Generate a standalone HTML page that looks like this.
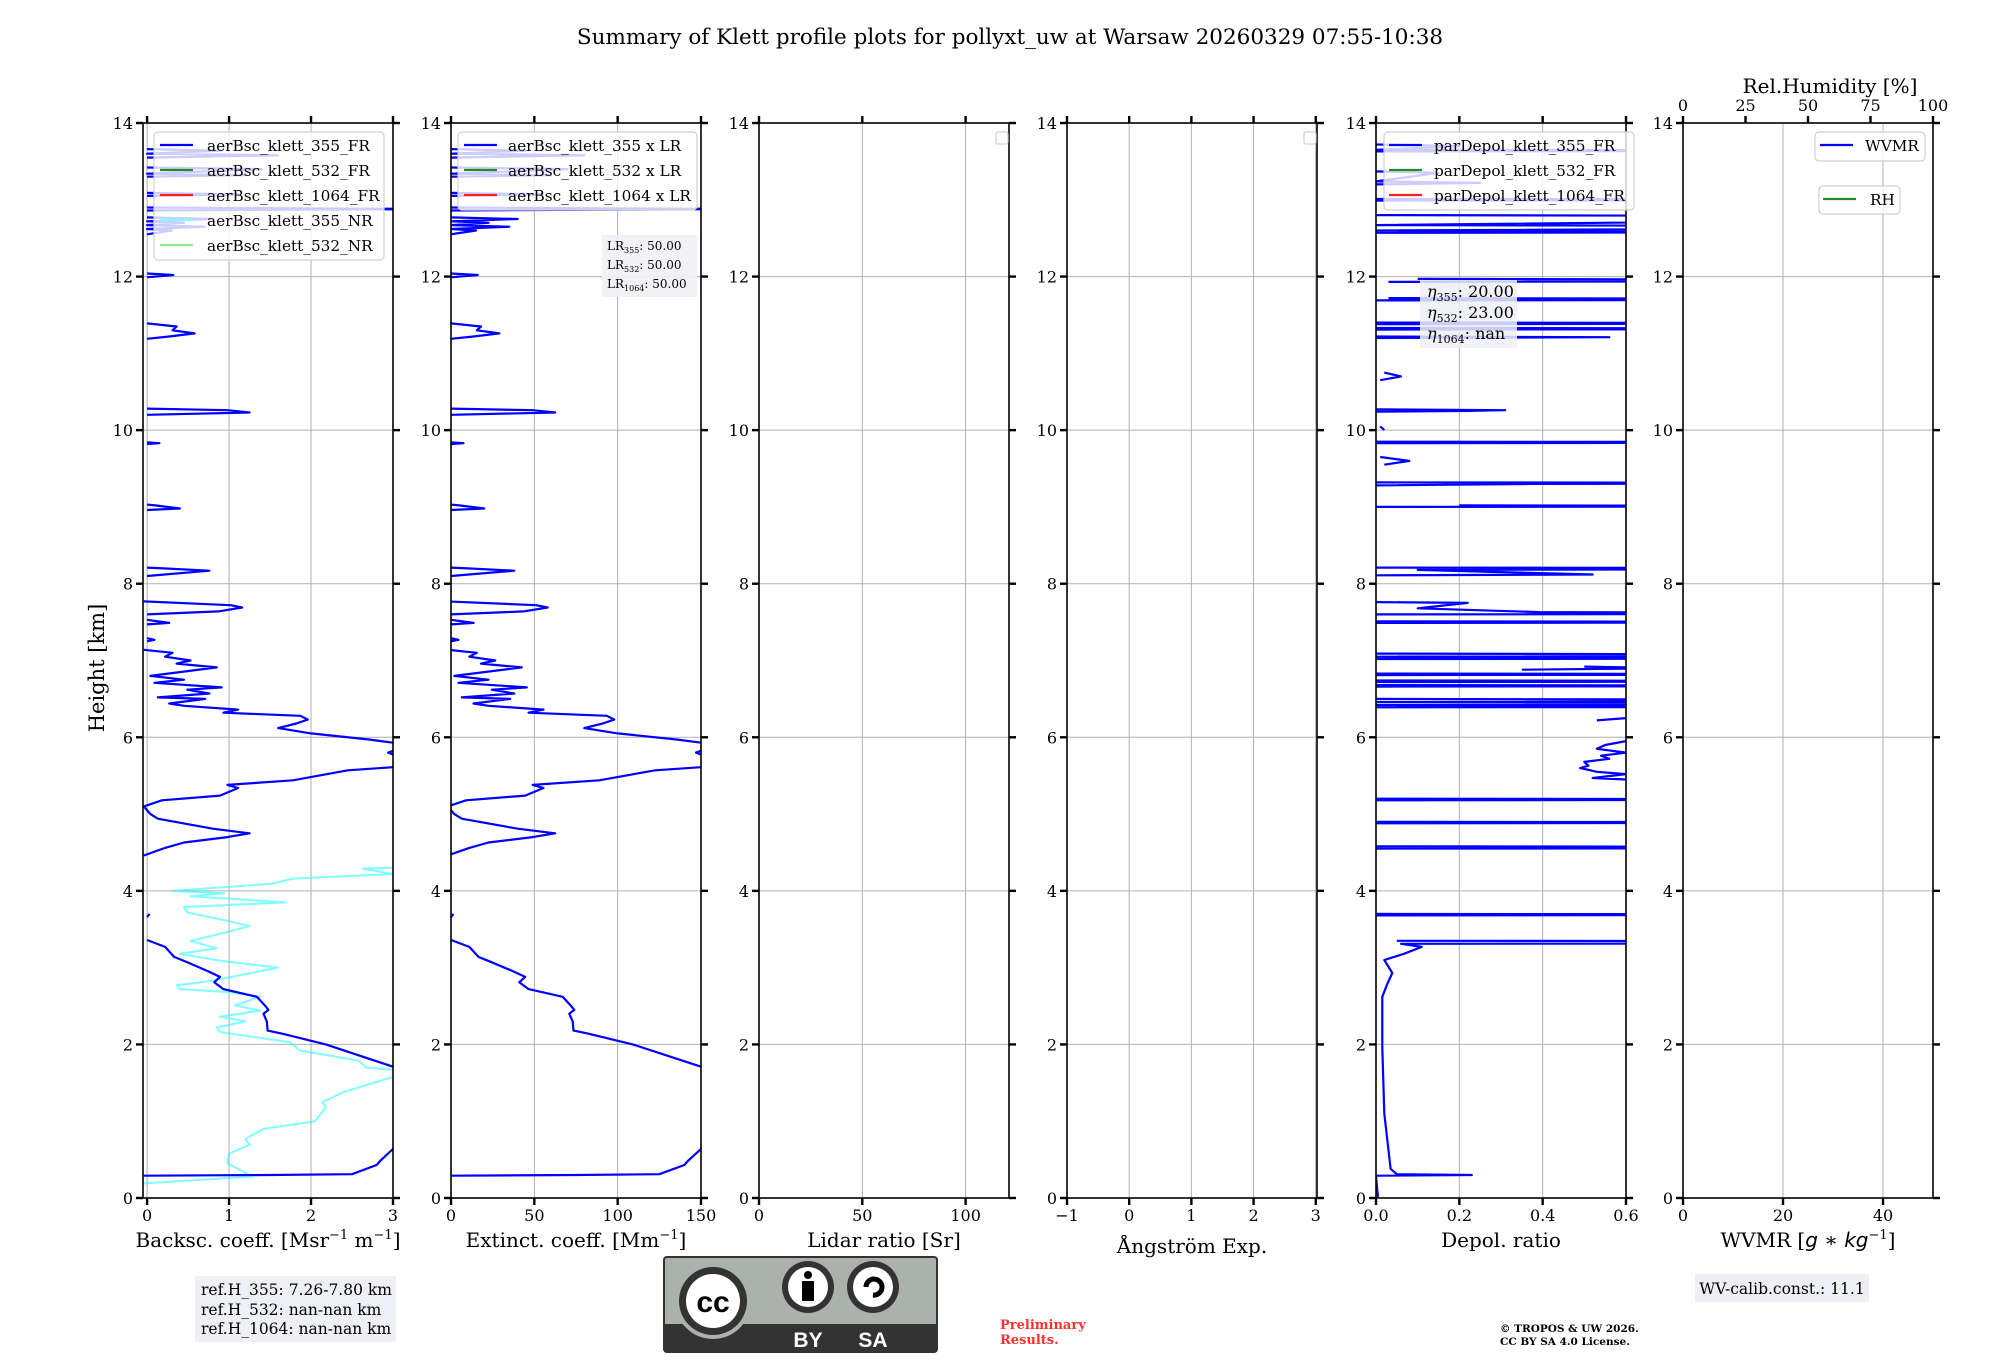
<!DOCTYPE html>
<html><head><meta charset="utf-8">
<style>
html,body{margin:0;padding:0;background:#fff;}
svg{display:block;}
text{font-family:"DejaVu Serif","Liberation Serif",serif;fill:#000;}
</style></head>
<body>
<svg id="fig" width="2000" height="1360" viewBox="0 0 2000 1360" xmlns="http://www.w3.org/2000/svg">
<text x="1010" y="44" font-size="21.5" text-anchor="middle">Summary of Klett profile plots for pollyxt_uw at Warsaw 20260329 07:55-10:38</text>
<text x="0" y="0" font-size="21" text-anchor="middle" transform="translate(104,668) rotate(-90)">Height [km]</text>
<g id="panels"></g>

<g>
<rect x="195" y="1276" width="201" height="66" fill="#eff0f5"/>
<text x="201" y="1295" font-size="15.5">ref.H_355: 7.26-7.80 km</text>
<text x="201" y="1315" font-size="15.5">ref.H_532: nan-nan km</text>
<text x="201" y="1334" font-size="15.5">ref.H_1064: nan-nan km</text>
</g>

<g>
<rect x="664" y="1257" width="273" height="95" rx="3" fill="#abb1ab" stroke="#333" stroke-width="2"/>
<rect x="665" y="1324" width="271" height="27" fill="#333"/>
<circle cx="713" cy="1301" r="38" fill="#abb1ab"/>
<circle cx="713" cy="1301" r="34" fill="#333"/>
<circle cx="713" cy="1301" r="27" fill="#fff"/>
<text x="713" y="1312" font-size="30" font-weight="bold" text-anchor="middle" style="font-family:'Liberation Sans',sans-serif;fill:#000">cc</text>
<circle cx="808" cy="1287" r="26" fill="#333"/>
<circle cx="808" cy="1287" r="20" fill="#fff"/>
<circle cx="808" cy="1275" r="4" fill="#000"/>
<rect x="802" y="1281" width="12" height="20" fill="#000"/>
<circle cx="873" cy="1287" r="26" fill="#333"/>
<circle cx="873" cy="1287" r="20" fill="#fff"/>
<path d="M866 1287 A8 8 0 1 1 873 1295" fill="none" stroke="#000" stroke-width="5"/>
<text x="808" y="1347" font-size="21" font-weight="bold" text-anchor="middle" style="font-family:'Liberation Sans',sans-serif;fill:#fff">BY</text>
<text x="873" y="1347" font-size="21" font-weight="bold" text-anchor="middle" style="font-family:'Liberation Sans',sans-serif;fill:#fff">SA</text>
</g>

<g>
<text x="1000" y="1329" font-size="13" font-weight="bold" style="fill:#ff3030">Preliminary</text>
<text x="1000" y="1344" font-size="13" font-weight="bold" style="fill:#ff3030">Results.</text>
</g>
<g>
<text x="1500" y="1332" font-size="10.5" font-weight="bold">© TROPOS &amp; UW 2026.</text>
<text x="1500" y="1345" font-size="10.5" font-weight="bold">CC BY SA 4.0 License.</text>
</g>
<g>
<rect x="1695" y="1274" width="174" height="28" fill="#eff0f5"/>
<text x="1782" y="1294" font-size="15.5" text-anchor="middle">WV-calib.const.: 11.1</text>
</g>
</svg>

<script>
// ---------- data ----------
const heightTicks = [0, 2, 4, 6, 8, 10, 12, 14];
const lidarRatio355 = 50;
const angstromTicks = [-1, 0, 1, 2, 3];
// aerBsc_klett_355_FR : [height km, backscatter Msr-1 m-1], null = gap
const bsc355FR = [[0.29,-0.04],[0.3,1.5],[0.31,2.5],[0.43,2.8],[0.49,2.85],[0.64,3.0],[0.8,3.3],[1.3,3.5],[1.71,3.0],[2.0,2.18],[2.14,1.65],[2.18,1.47],[2.3,1.46],[2.4,1.42],[2.45,1.48],[2.49,1.45],[2.62,1.34],[2.72,0.93],[2.81,0.82],[2.88,0.89],[2.96,0.73],[3.07,0.49],[3.14,0.33],[3.27,0.22],[3.36,0],null,[3.66,0],[3.7,0.03],null,[4.46,-0.04],[4.56,0.22],[4.63,0.45],[4.7,0.98],[4.75,1.25],[4.81,0.8],[4.94,0.13],[5.0,0.04],[5.1,-0.04],[5.18,0.18],[5.24,0.89],[5.34,1.11],[5.38,0.98],[5.44,1.78],[5.57,2.45],[5.61,3.0],[5.65,3.3],[5.8,2.94],[5.9,3.2],[5.93,3.0],[5.97,2.72],[6.05,2.0],[6.12,1.6],[6.18,1.82],[6.23,1.96],[6.28,1.87],[6.32,0.93],[6.36,1.11],[6.41,0.45],[6.44,0.27],[6.5,0.71],[6.52,0.13],[6.57,0.76],[6.62,0.49],[6.65,0.91],[6.71,0.09],[6.75,0.45],[6.8,0.04],[6.91,0.85],[6.96,0.36],[7.0,0.53],[7.05,0.22],[7.1,0.31],[7.14,-0.04],null,[7.25,0],[7.27,0.09],[7.29,0],null,[7.47,0],[7.49,0.27],[7.53,0],null,[7.6,0],[7.64,0.87],[7.69,1.16],[7.72,1.02],[7.77,-0.04],null,[8.1,0],[8.17,0.76],[8.2,0.2],[8.21,0],null,[8.96,0],[8.98,0.4],[9.02,0.1],[9.03,0],null,[9.82,0],[9.83,0.15],[9.84,0],null,[10.2,0],[10.23,1.25],[10.26,0.98],[10.28,0],null,[11.19,0],[11.22,0.27],[11.26,0.58],[11.3,0.31],[11.35,0.36],[11.39,0],null,[11.99,0],[12.02,0.32],[12.04,0],null,[12.55,0],[12.6,0.3],[12.62,0],[12.65,0.7],[12.67,0],[12.7,0.45],[12.72,0],[12.75,0.8],[12.77,0],null,[12.86,0],[12.88,3.5],[12.9,0],null,[13.05,0],[13.07,1.1],[13.09,0],null,[13.3,0],[13.32,1.2],[13.34,0],[13.4,1.4],[13.42,0],null,[13.55,0],[13.58,1.6],[13.6,0],[13.64,0.9],[13.66,0]];
// aerBsc_klett_355_NR
const bsc355NR = [[0.19,-0.04],[0.28,1.29],[0.45,0.98],[0.58,1.0],[0.69,1.25],[0.77,1.2],[0.9,1.42],[1.0,2.05],[1.18,2.18],[1.25,2.14],[1.38,2.4],[1.57,2.98],[1.65,3.2],[1.7,2.67],[1.79,2.58],[1.92,1.87],[2.03,1.74],[2.16,0.89],[2.22,0.85],[2.3,1.2],[2.36,0.89],[2.44,1.38],[2.51,1.07],[2.62,1.38],[2.68,1.02],[2.72,0.4],[2.77,0.36],[2.83,0.8],[3.0,1.6],[3.09,0.89],[3.18,0.4],[3.25,0.85],[3.35,0.53],[3.44,0.89],[3.54,1.25],[3.61,0.98],[3.72,0.49],[3.79,0.45],[3.85,1.69],[3.93,0.53],[3.97,0.94],[4.0,0.31],[4.09,1.51],[4.16,1.78],[4.22,3.0],[4.29,2.63],[4.3,3.0]];
// parDepol_klett_355_FR
const depol355FR = [[0,0.005],[0.1,0.003],[0.28,0],null,[0.29,0],[0.3,0.23],[0.31,0.05],[0.38,0.035],[1.1,0.02],[1.96,0.015],[2.62,0.015],[2.79,0.027],[2.93,0.039],[3.1,0.02],[3.18,0.067],[3.27,0.11],[3.31,0.06],[3.32,2],[3.34,2],[3.35,0.05],null,[3.68,0],[3.69,2],[3.7,0],null,[4.55,0],[4.56,2],[4.57,2],[4.58,0],null,[4.88,0],[4.89,2],[4.9,0],null,[5.18,0],[5.19,2],[5.2,0],null,[5.45,0.6],[5.47,0.52],[5.52,0.6],[5.55,0.53],[5.6,0.49],[5.63,0.51],[5.68,0.5],[5.72,0.56],[5.76,0.54],[5.8,0.6],[5.85,0.53],[5.9,0.55],[5.95,0.6],[6.0,0.65],null,[6.22,0.53],[6.25,0.6],[6.27,0.65],null,[6.39,0],[6.4,2],[6.42,0],[6.44,2],[6.46,0],[6.48,2],[6.5,0],null,[6.66,0],[6.67,2],[6.68,0],null,[6.72,0],[6.73,2],[6.74,0],null,[6.81,0],[6.82,2],[6.83,0],null,[6.88,0.35],[6.9,0.7],[6.92,0.5],null,[7.02,0],[7.03,2],[7.05,0],[7.07,2],[7.09,0],null,[7.49,0],[7.5,2],[7.51,0],null,[7.6,0],[7.61,2],[7.63,0.39],[7.68,0.1],[7.75,0.22],[7.76,0],null,[8.11,0],[8.12,0.52],[8.18,0.1],[8.2,2],[8.21,0],null,[9.0,0],[9.01,2],[9.02,0.2],null,[9.28,0],[9.3,0.38],[9.31,2],[9.32,0],null,[9.55,0.02],[9.6,0.08],[9.65,0.01],null,[9.83,0],[9.84,2],[9.85,0],null,[10.0,0.02],[10.05,0.01],null,[10.24,0],[10.25,0.22],[10.26,0.31],[10.27,0],null,[10.65,0.01],[10.7,0.06],[10.75,0.02],null,[11.2,0],[11.21,0.56],[11.22,0],null,[11.31,0],[11.32,2],[11.33,0],null,[11.38,0],[11.39,2],[11.4,0],null,[11.69,0],[11.7,2],[11.72,0.03],null,[11.93,0.03],[11.95,2],[11.97,0.1],null,[12.57,0],[12.58,2],[12.6,0],[12.65,2],[12.67,0],[12.78,2],[12.8,0],null,[12.99,0],[13.0,2],[13.01,0],null,[13.2,0],[13.22,0.25],[13.24,0],[13.35,0.15],[13.37,0],null,[13.63,0],[13.64,2],[13.65,0],[13.7,0.2],[13.72,0]];
const rhTicks = [0, 25, 50, 75, 100];

// ---------- layout ----------
const NS = "http://www.w3.org/2000/svg";
const TOP = 123, BOT = 1198, HMAX = 14;
const yScale = h => BOT - (h / HMAX) * (BOT - TOP);
const panelsG = document.getElementById('panels');
function el(tag, attrs, parent){ const e=document.createElementNS(NS,tag); for(const k in attrs) e.setAttribute(k,attrs[k]); (parent||panelsG).appendChild(e); return e; }

const panels = [
 {name:'backscatter', x0:143, xmin:-0.05, xmax:3, ticks:[0,1,2,3], fmt:v=>String(v), label:'bsc'},
 {name:'extinction', x0:451, xmin:0, xmax:150, ticks:[0,50,100,150], fmt:v=>String(v), label:'ext'},
 {name:'lidar-ratio', x0:759, xmin:0, xmax:121, ticks:[0,50,100], fmt:v=>String(v), label:'Lidar ratio [Sr]'},
 {name:'angstrom', x0:1067, xmin:-1, xmax:3.02, ticks:angstromTicks, fmt:v=>v<0?'\u2212'+(-v):String(v), label:'\u00C5ngstr\u00F6m Exp.'},
 {name:'depol', x0:1376, xmin:0, xmax:0.6, ticks:[0,0.2,0.4,0.6], fmt:v=>v.toFixed(1), label:'Depol. ratio'},
 {name:'wvmr', x0:1683, xmin:0, xmax:50, ticks:[0,20,40], fmt:v=>String(v), label:'wvmr'}
];
const W = 250;

panels.forEach((p,i)=>{
  const g = el('g',{});
  
  
  const xs = v => p.x0 + (v - p.xmin)/(p.xmax - p.xmin)*W;
  p.xs = xs; p.g = g;
  const clip = el('clipPath',{id:'clip'+i}, g);
  el('rect',{x:p.x0,y:TOP,width:W,height:BOT-TOP}, clip);
  p.ticks.forEach(t=>{ const l=el('line',{x1:xs(t),x2:xs(t),y1:TOP,y2:BOT,stroke:'#b0b0b0','stroke-width':1},g);
      });
  heightTicks.forEach(h=>{ const l=el('line',{x1:p.x0,x2:p.x0+W,y1:yScale(h),y2:yScale(h),stroke:'#b0b0b0','stroke-width':1},g);
      });
  p.plot = el('g',{'clip-path':'url(#clip'+i+')'}, g);
  const fr = el('rect',{x:p.x0,y:TOP,width:W,height:BOT-TOP,fill:'none',stroke:'#000','stroke-width':1.6},g);
   
  p.ticks.forEach(t=>{
    el('line',{x1:xs(t),x2:xs(t),y1:BOT,y2:BOT+7,stroke:'#000','stroke-width':2.4},g);
    if(i!==5) el('line',{x1:xs(t),x2:xs(t),y1:TOP,y2:TOP-7,stroke:'#000','stroke-width':2.4},g);
    const tx = el('text',{x:xs(t),y:1221,'font-size':16,'text-anchor':'middle'},g);
    tx.textContent = p.fmt(t);
     
  });
  heightTicks.forEach(h=>{
    el('line',{x1:p.x0-7,x2:p.x0,y1:yScale(h),y2:yScale(h),stroke:'#000','stroke-width':2.4},g);
    el('line',{x1:p.x0+W,x2:p.x0+W+7,y1:yScale(h),y2:yScale(h),stroke:'#000','stroke-width':2.4},g);
    const ty = el('text',{x:p.x0-10,y:yScale(h)+6,'font-size':16,'text-anchor':'end'},g);
    ty.textContent = String(h);
     
  });
  const lab = el('text',{x:p.x0+W/2,y:1247,'font-size':20,'text-anchor':'middle'},g);
   
  if(p.label==='bsc'){ lab.innerHTML='Backsc. coeff. [Msr<tspan font-size="13" dy="-8">\u22121</tspan><tspan dy="8"> m</tspan><tspan font-size="13" dy="-8">\u22121</tspan><tspan dy="8">]</tspan>'; }
  else if(p.label==='ext'){ lab.innerHTML='Extinct. coeff. [Mm<tspan font-size="13" dy="-8">\u22121</tspan><tspan dy="8">]</tspan>'; }
  else if(p.label==='wvmr'){ lab.innerHTML='WVMR [<tspan font-style="italic" style="font-family:\'DejaVu Sans\',sans-serif">g</tspan> \u2217 <tspan font-style="italic" style="font-family:\'DejaVu Sans\',sans-serif">kg</tspan><tspan font-size="13" dy="-8">\u22121</tspan><tspan dy="8">]</tspan>'; }
  else { lab.textContent = p.label; if(i===3) lab.setAttribute('y',1253); }
});

function drawProfile(p, data, scaleV, color, width, opacity, name){
  let d=''; let pen=false;
  data.forEach(pt=>{
    if(pt===null){ pen=false; return; }
    const x=p.xs(pt[1]*scaleV), y=yScale(pt[0]);
    d += (pen?'L':'M')+x.toFixed(1)+' '+y.toFixed(1)+' '; pen=true;
  });
  const path = el('path',{d:d,fill:'none',stroke:color,'stroke-width':width,'stroke-opacity':opacity,'stroke-linejoin':'round'},p.plot);
  
  
}
drawProfile(panels[0], bsc355NR, 1, '#00ffff', 2, 0.5, 'line-bsc-355-nr');
drawProfile(panels[0], bsc355FR, 1, '#0000ff', 2.2, 1, 'line-bsc-355-fr');
drawProfile(panels[1], bsc355FR, lidarRatio355, '#0000ff', 2.2, 1, 'line-ext-355');
drawProfile(panels[4], depol355FR, 1, '#0000ff', 2.2, 1, 'line-depol-355-fr');

(function(){
  const p=panels[5];
  const rx = v => p.x0 + v/100*W;
  rhTicks.forEach(t=>{
    el('line',{x1:rx(t),x2:rx(t),y1:TOP,y2:TOP-7,stroke:'#000','stroke-width':2.4},p.g);
    const tx=el('text',{x:rx(t),y:111,'font-size':16,'text-anchor':'middle'},p.g);
    tx.textContent=String(t);
     
  });
  const t=el('text',{x:1830,y:93,'font-size':20,'text-anchor':'middle'},p.g);
  t.textContent='Rel.Humidity [%]';
   
})();

function legend(name, x, y, w, h, entries, lx, tx, fs){
  const g = el('g',{});
  
  
  el('rect',{x:x,y:y,width:w,height:h,rx:4,fill:'#fff','fill-opacity':0.8,stroke:'#d0d0d0','stroke-width':1.2},g);
  entries.forEach((e,k)=>{
    const yy = y+13+k*25;
    el('line',{x1:lx,x2:lx+33,y1:yy,y2:yy,stroke:e[1],'stroke-width':2.2},g);
    const t=el('text',{x:tx,y:yy+6,'font-size':fs},g);
    t.textContent=e[0];
     
  });
}
legend('backscatter-legend',154,132,230,128,[['aerBsc_klett_355_FR','#0000ff'],['aerBsc_klett_532_FR','#228b22'],['aerBsc_klett_1064_FR','#ff2020'],['aerBsc_klett_355_NR','#80ffff'],['aerBsc_klett_532_NR','#90ee90']],160,207,15.3);
legend('extinction-legend',458,132,239,78,[['aerBsc_klett_355 x LR','#0000ff'],['aerBsc_klett_532 x LR','#228b22'],['aerBsc_klett_1064 x LR','#ff2020']],464,508,15.3);
legend('depol-legend',1384,132,250,78,[['parDepol_klett_355_FR','#0000ff'],['parDepol_klett_532_FR','#228b22'],['parDepol_klett_1064_FR','#ff2020']],1389,1434,15.3);
legend('wvmr-legend',1815,132,110,29,[['WVMR','#0000ff']],1820,1865,15.3);
legend('rh-legend',1819,186,81,28,[['RH','#228b22']],1823,1870,15.3);
[[996,'lidar-ratio-legend'],[1304,'angstrom-legend']].forEach(a=>{
  const r=el('rect',{x:a[0],y:132,width:12,height:12,rx:2,fill:'#fff',stroke:'#d0d0d0','stroke-width':1.2});
   
});

(function(){
  const g=el('g',{});
   
  el('rect',{x:602,y:235,width:95,height:62,fill:'#eff0f5','fill-opacity':0.9},g);
  [['355','50.00'],['532','50.00'],['1064','50.00']].forEach((r,k)=>{
    const t=el('text',{x:607,y:250+k*19,'font-size':12},g);
    t.innerHTML='LR<tspan font-size="8" dy="3">'+r[0]+'</tspan><tspan dy="-3">: '+r[1]+'</tspan>';
  });
  const g2=el('g',{});
   
  el('rect',{x:1420,y:280,width:97,height:68,fill:'#eff0f5','fill-opacity':0.85},g2);
  [['355','20.00'],['532','23.00'],['1064','nan']].forEach((r,k)=>{
    const t=el('text',{x:1427,y:297+k*21,'font-size':16},g2);
    t.innerHTML='<tspan font-style="italic">\u03B7</tspan><tspan font-size="11" dy="4">'+r[0]+'</tspan><tspan dy="-4">: '+r[1]+'</tspan>';
  });
})();
</script>
</body></html>
